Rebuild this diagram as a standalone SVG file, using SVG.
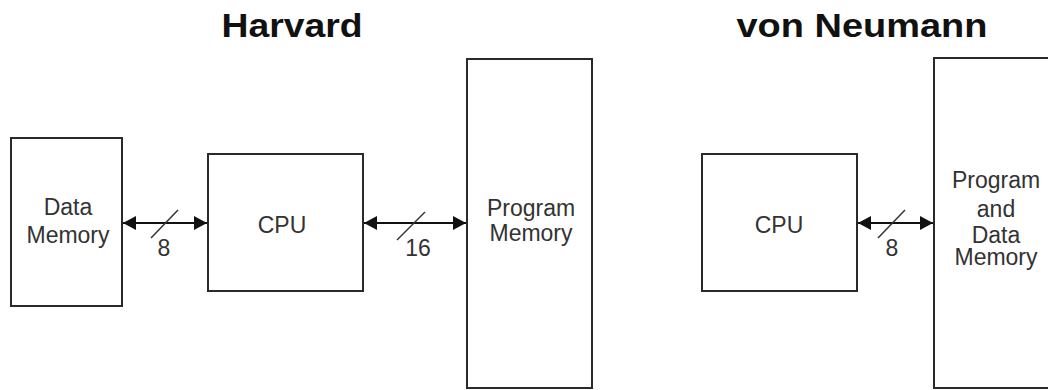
<svg xmlns="http://www.w3.org/2000/svg" width="1048" height="390" viewBox="0 0 1048 390">
<style>
.box{fill:#fff;stroke:#2a2a2a;stroke-width:2}
.lbl{font-family:"Liberation Sans",Arial,sans-serif;font-size:23px;fill:#333;text-anchor:middle}
.title{font-family:"Liberation Sans",Arial,sans-serif;font-size:33px;font-weight:bold;fill:#111;text-anchor:middle}
.bus{stroke:#111;stroke-width:2;fill:none;marker-start:url(#ah);marker-end:url(#ah)}
.slash{stroke:#333;stroke-width:1.5}
</style>
<defs>
<marker id="ah" viewBox="0 0 13 14" refX="13" refY="7" markerWidth="13" markerHeight="14" markerUnits="userSpaceOnUse" orient="auto-start-reverse">
<path d="M0,0 L13,7 L0,14 z" fill="#111"/>
</marker>
</defs>
<rect width="1048" height="390" fill="#fff"/>
<text class="title" x="292" y="37" textLength="141" lengthAdjust="spacingAndGlyphs">Harvard</text>
<text class="title" x="862" y="37" textLength="251" lengthAdjust="spacingAndGlyphs">von Neumann</text>
<g id="data-memory">
<rect class="box" x="11" y="138" width="111" height="168"/>
<text class="lbl" x="68" y="215">Data</text>
<text class="lbl" x="68" y="243">Memory</text>
</g>
<g id="cpu-harvard">
<rect class="box" x="208" y="154" width="155" height="137"/>
<text class="lbl" x="282" y="233">CPU</text>
</g>
<g id="program-memory">
<rect class="box" x="467" y="59" width="125" height="329"/>
<text class="lbl" x="531" y="216">Program</text>
<text class="lbl" x="531" y="241">Memory</text>
</g>
<g id="cpu-vn">
<rect class="box" x="702" y="154" width="155" height="137"/>
<text class="lbl" x="779" y="233">CPU</text>
</g>
<g id="program-data-memory">
<rect class="box" x="934" y="58" width="130" height="330"/>
<text class="lbl" x="996" y="188">Program</text>
<text class="lbl" x="996" y="217">and</text>
<text class="lbl" x="996" y="243">Data</text>
<text class="lbl" x="996" y="265">Memory</text>
</g>
<g id="connectors">
<line class="bus" x1="123" y1="223" x2="207" y2="223"/>
<line class="slash" x1="151" y1="238" x2="178" y2="210"/>
<text class="lbl" x="164" y="256">8</text>
<line class="bus" x1="364" y1="223" x2="466" y2="223"/>
<line class="slash" x1="397" y1="240" x2="425" y2="212"/>
<text class="lbl" x="418" y="256">16</text>
<line class="bus" x1="858" y1="223" x2="933" y2="223"/>
<line class="slash" x1="878" y1="238" x2="905" y2="210"/>
<text class="lbl" x="892" y="256">8</text>
</g>
</svg>
